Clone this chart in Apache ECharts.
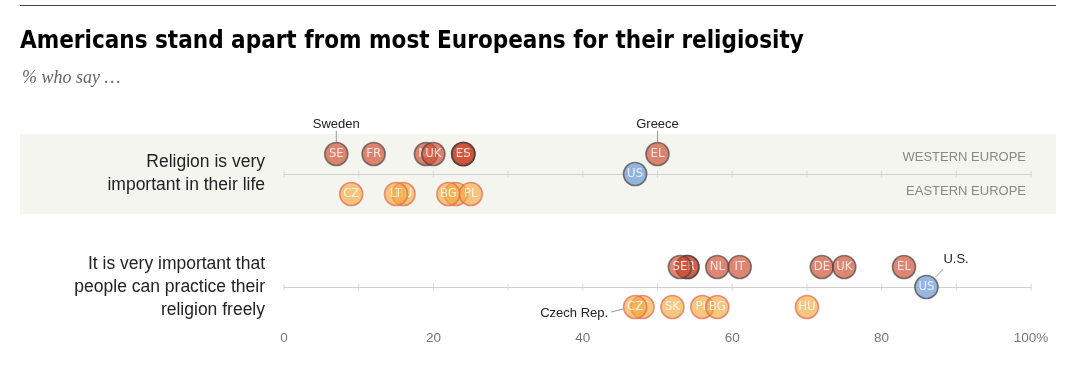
<!DOCTYPE html>
<html><head><meta charset="utf-8">
<script src="https://cdn.jsdelivr.net/npm/echarts@6/dist/echarts.min.js"></script>
<style>html,body{margin:0;padding:0;background:#fff}#c{width:1087px;height:368px}</style>
</head><body><div id="c"></div>
<script>
// ---------- data ----------
const title = 'Americans stand apart from most Europeans for their religiosity';
const subtitle = '% who say \u2026';
const categories = ['Religion is very\nimportant in their life', 'It is very important that\npeople can practice their\nreligion freely'];
const tickValues = [0, 10, 20, 30, 40, 50, 60, 70, 80, 90, 100];
const tickLabels = {0: '0', 20: '20', 40: '40', 60: '60', 80: '80', 100: '100%'};
// Western Europe, row 1 and row 2 (draw order: later on top)
const westernCodesTop = ['SE', 'FR', 'NL', 'UK', 'DE', 'IT', 'ES', 'EL'];
const westernValuesTop = [7, 12, 19, 20, 24, 24, 24, 50];
const westernCodesBottom = ['ES', 'FR', 'SE', 'NL', 'IT', 'DE', 'UK', 'EL'];
const westernValuesBottom = [54, 54, 53, 58, 61, 72, 75, 83];
// Eastern Europe
const easternCodesTop = ['CZ', 'HU', 'LT', 'SK', 'PL', 'BG'];
const easternValuesTop = [9, 16, 15, 23, 25, 22];
const easternCodesBottom = ['LT', 'CZ', 'SK', 'PL', 'BG', 'HU'];
const easternValuesBottom = [48, 47, 52, 56, 58, 70];
// U.S.
const usValues = [47, 86];
const annotations = [
  {text: 'Sweden', value: 7, row: 0},
  {text: 'Greece', value: 50, row: 0},
  {text: 'U.S.', value: 86, row: 1},
  {text: 'Czech Rep.', value: 47, row: 1}
];

// ---------- build ----------
const dotFont = '"Liberation Sans Narrow","DejaVu Sans Condensed",sans-serif';
const bodyFont = '"Liberation Sans",Arial,sans-serif';
const dotLabel = {show: true, position: 'inside', formatter: '{b}', color: '#fff', fontSize: 13, fontFamily: dotFont};
const styles = {
  west: {offset: [0, -20], item: {color: 'rgba(206,78,52,0.86)', borderColor: 'rgba(60,60,60,0.78)', borderWidth: 1.7}},
  east: {offset: [0, 20], item: {color: 'rgba(243,166,58,0.8)', borderColor: 'rgba(226,98,76,0.85)', borderWidth: 1.6}},
  us: {offset: [0, 0], item: {color: '#7ca4dc', borderColor: '#555', borderWidth: 1.7}}
};
const dots = [];
function add(codes, vals, row, group) { codes.forEach((c, i) => dots.push({name: c, value: [vals[i], row], group: group})); }
add(westernCodesTop, westernValuesTop, 0, 'west');
add(westernCodesBottom, westernValuesBottom, 1, 'west');
add(easternCodesTop, easternValuesTop, 0, 'east');
add(easternCodesBottom, easternValuesBottom, 1, 'east');
usValues.forEach((v, r) => dots.push({name: 'US', value: [v, r], group: 'us'}));

const ticks = [];
[0, 1].forEach(r => tickValues.forEach(v => ticks.push([v, r])));

const chart = echarts.init(document.getElementById('c'), null, {renderer: 'canvas'});
const axisBase = {type: 'value', min: 0, max: 100, interval: 10, splitLine: {show: false}, axisTick: {show: false},
  axisLine: {show: true, onZero: false, lineStyle: {color: '#cfcfcf', width: 1}}};
const series = [
  {type: 'scatter', name: 'ticks', data: ticks, symbol: 'rect', symbolSize: [1, 7], silent: true,
    itemStyle: {color: '#cfcfcf'}, z: 1}
];
dots.forEach((d, i) => {
  const s = styles[d.group];
  series.push({type: 'scatter', data: [{name: d.name, value: d.value}], symbolSize: 23, symbolOffset: s.offset,
    itemStyle: s.item, label: dotLabel, z: 3 + i});
});
const option = {
  animation: false,
  grid: {left: 284, right: 56, top: 174, bottom: 81, containLabel: false},
  xAxis: [
    Object.assign({}, axisBase, {position: 'bottom', axisLabel: {margin: 44, color: '#777', fontSize: 13.5, fontFamily: bodyFont,
      formatter: v => tickLabels[v] !== undefined ? tickLabels[v] : ''}}),
    Object.assign({}, axisBase, {position: 'top', axisLabel: {show: false}})
  ],
  yAxis: {type: 'category', data: categories, boundaryGap: false, inverse: true,
    axisLine: {show: false}, axisTick: {show: false}, splitLine: {show: false},
    axisLabel: {margin: 19, color: '#222', fontSize: 17.5, lineHeight: 23, fontFamily: bodyFont, align: 'right'}},
  series: series
};
chart.setOption(option);

const els = [
  {type: 'rect', z: -10, silent: true, shape: {x: 20, y: 134, width: 1036, height: 80}, style: {fill: '#f5f5f0'}},
  {type: 'line', shape: {x1: 20, y1: 5.5, x2: 1056, y2: 5.5}, style: {stroke: '#444', lineWidth: 1}},
  {type: 'text', x: 20, y: 42, style: {text: title, fill: '#000', font: 'bold 24px "Liberation Sans Narrow","DejaVu Sans Condensed",sans-serif', textVerticalAlign: 'middle'}},
  {type: 'text', x: 22, y: 78, style: {text: subtitle, fill: '#666', font: 'italic 18px "Liberation Serif",serif', textVerticalAlign: 'middle'}},
  {type: 'text', x: 1026, y: 157, style: {text: 'WESTERN EUROPE', fill: '#888', font: '13px ' + bodyFont, textAlign: 'right', textVerticalAlign: 'middle'}},
  {type: 'text', x: 1026, y: 191, style: {text: 'EASTERN EUROPE', fill: '#888', font: '13px ' + bodyFont, textAlign: 'right', textVerticalAlign: 'middle'}}
];
annotations.forEach(a => {
  const p = chart.convertToPixel({gridIndex: 0}, [a.value, a.row]);
  const font = '13px ' + bodyFont;
  if (a.text === 'U.S.') {
    els.push({type: 'line', shape: {x1: p[0] + 9, y1: p[1] - 10, x2: p[0] + 17, y2: p[1] - 18}, style: {stroke: '#999', lineWidth: 1}});
    els.push({type: 'text', x: p[0] + 17, y: p[1] - 28, style: {text: a.text, fill: '#222', font: font, textAlign: 'left', textVerticalAlign: 'middle'}});
  } else if (a.text === 'Czech Rep.') {
    els.push({type: 'line', shape: {x1: p[0] - 24, y1: p[1] + 25, x2: p[0] - 12, y2: p[1] + 22}, style: {stroke: '#999', lineWidth: 1}});
    els.push({type: 'text', x: p[0] - 27, y: p[1] + 26, style: {text: a.text, fill: '#222', font: font, textAlign: 'right', textVerticalAlign: 'middle'}});
  } else {
    els.push({type: 'line', shape: {x1: p[0], y1: p[1] - 43, x2: p[0], y2: p[1] - 32}, style: {stroke: '#999', lineWidth: 1}});
    els.push({type: 'text', x: p[0], y: p[1] - 50, style: {text: a.text, fill: '#222', font: font, textAlign: 'center', textVerticalAlign: 'middle'}});
  }
});
chart.setOption({graphic: {elements: els}});
</script></body></html>
